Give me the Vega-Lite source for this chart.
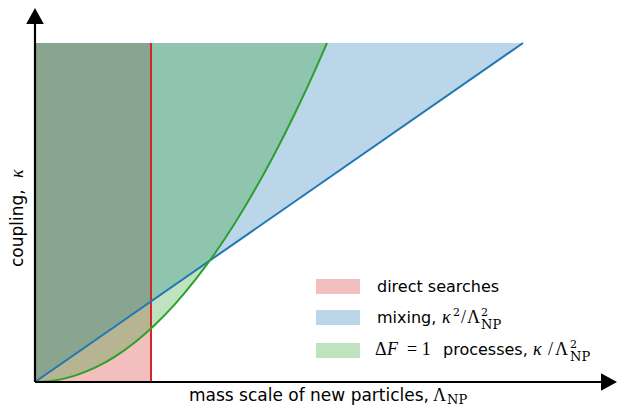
{
  "$schema": "https://vega.github.io/schema/vega-lite/v6.json",
  "width": 580,
  "height": 374,
  "autosize": "none",
  "padding": {"left": 35, "top": 8, "right": 2, "bottom": 25},
  "background": "white",
  "config": {"view": {"stroke": null}},
  "datasets": {
    "search": [
      {"region": "direct searches", "mass": 0, "mass2": 116, "coupling": 0, "coupling2": 339}
    ],
    "mixing": [
      {"region": "mixing", "mass": 0, "coupling": 0},
      {"region": "mixing", "mass": 488, "coupling": 339}
    ],
    "dF1": [
      {"region": "ΔF = 1 processes", "mass": 0, "coupling": 0},
      {"region": "ΔF = 1 processes", "mass": 20, "coupling": 1.6},
      {"region": "ΔF = 1 processes", "mass": 40, "coupling": 6.4},
      {"region": "ΔF = 1 processes", "mass": 60, "coupling": 14.3},
      {"region": "ΔF = 1 processes", "mass": 80, "coupling": 25.4},
      {"region": "ΔF = 1 processes", "mass": 100, "coupling": 39.8},
      {"region": "ΔF = 1 processes", "mass": 120, "coupling": 57.3},
      {"region": "ΔF = 1 processes", "mass": 140, "coupling": 77.9},
      {"region": "ΔF = 1 processes", "mass": 160, "coupling": 101.8},
      {"region": "ΔF = 1 processes", "mass": 180, "coupling": 128.8},
      {"region": "ΔF = 1 processes", "mass": 200, "coupling": 159.0},
      {"region": "ΔF = 1 processes", "mass": 220, "coupling": 192.4},
      {"region": "ΔF = 1 processes", "mass": 240, "coupling": 229.0},
      {"region": "ΔF = 1 processes", "mass": 260, "coupling": 268.8},
      {"region": "ΔF = 1 processes", "mass": 280, "coupling": 311.7},
      {"region": "ΔF = 1 processes", "mass": 292, "coupling": 339}
    ],
    "cut": [
      {"mass": 116, "coupling": 0, "coupling2": 339}
    ],
    "axes": [
      {"mass": 0, "mass2": 575, "coupling": 0, "coupling2": 0},
      {"mass": 0, "mass2": 0, "coupling": 0, "coupling2": 365}
    ],
    "arrowRight": [{"mass": 574, "coupling": 0}],
    "arrowUp": [{"mass": 0, "coupling": 366}],
    "key": [
      {"region": "direct searches", "mass": 281, "mass2": 325, "coupling": 88, "coupling2": 103},
      {"region": "mixing", "mass": 281, "mass2": 325, "coupling": 57, "coupling2": 72},
      {"region": "ΔF = 1 processes", "mass": 281, "mass2": 325, "coupling": 24, "coupling2": 39}
    ],
    "keyText": [
      {"label": "direct searches", "mass": 342, "coupling": 90},
      {"label": "mixing,", "mass": 342, "coupling": 59},
      {"label": "processes,", "mass": 408, "coupling": 27}
    ],
    "xTitle": [{"label": "mass scale of new particles,", "mass": 154, "coupling": -19}],
    "yTitle": [{"label": "coupling,", "mass": -12, "coupling": 115}],
    "yTitleMath": [{"label": "κ", "mass": -12, "coupling": 204}],
    "mathItalic": [
      {"label": "κ", "mass": 407, "coupling": 59},
      {"label": "F", "mass": 352, "coupling": 27},
      {"label": "κ", "mass": 498, "coupling": 27}
    ],
    "mathUpright": [
      {"label": "/", "mass": 426, "coupling": 59},
      {"label": "Λ", "mass": 432, "coupling": 59},
      {"label": "Δ", "mass": 340, "coupling": 27},
      {"label": "= 1", "mass": 372, "coupling": 27},
      {"label": "/", "mass": 513, "coupling": 27},
      {"label": "Λ", "mass": 520, "coupling": 27},
      {"label": "Λ", "mass": 398, "coupling": -19}
    ],
    "sup": [
      {"label": "2", "mass": 418, "coupling": 66},
      {"label": "2", "mass": 446, "coupling": 66},
      {"label": "2", "mass": 535, "coupling": 34}
    ],
    "sub": [
      {"label": "NP", "mass": 446, "coupling": 53},
      {"label": "NP", "mass": 535, "coupling": 21},
      {"label": "NP", "mass": 412, "coupling": -22}
    ]
  },
  "encoding": {
    "x": {"field": "mass", "type": "quantitative", "scale": {"domain": [0, 580], "nice": false, "zero": false}, "axis": null},
    "y": {"field": "coupling", "type": "quantitative", "scale": {"domain": [0, 374], "nice": false, "zero": false}, "axis": null}
  },
  "layer": [
    {
      "data": {"name": "search"},
      "mark": {"type": "rect", "fillOpacity": 0.3},
      "encoding": {
        "x2": {"field": "mass2"},
        "y2": {"field": "coupling2"},
        "color": {"field": "region", "type": "nominal", "legend": null,
          "scale": {"domain": ["direct searches", "mixing", "ΔF = 1 processes"], "range": ["#d62728", "#1f77b4", "#2ca02c"]}}
      }
    },
    {
      "data": {"name": "mixing"},
      "mark": {"type": "area", "fillOpacity": 0.3},
      "encoding": {
        "y2": {"datum": 339},
        "color": {"field": "region", "type": "nominal"}
      }
    },
    {
      "data": {"name": "dF1"},
      "mark": {"type": "area", "fillOpacity": 0.3, "interpolate": "monotone"},
      "encoding": {
        "y2": {"datum": 339},
        "color": {"field": "region", "type": "nominal"}
      }
    },
    {
      "data": {"name": "cut"},
      "mark": {"type": "rule", "color": "#d62728", "strokeWidth": 2},
      "encoding": {"y2": {"field": "coupling2"}}
    },
    {
      "data": {"name": "mixing"},
      "mark": {"type": "line", "color": "#1f77b4", "strokeWidth": 2},
      "encoding": {}
    },
    {
      "data": {"name": "dF1"},
      "mark": {"type": "line", "color": "#2ca02c", "strokeWidth": 2, "interpolate": "monotone"},
      "encoding": {}
    },
    {
      "data": {"name": "axes"},
      "mark": {"type": "rule", "color": "black", "strokeWidth": 2.2},
      "encoding": {"x2": {"field": "mass2"}, "y2": {"field": "coupling2"}}
    },
    {
      "data": {"name": "arrowRight"},
      "mark": {"type": "point", "shape": "M1,0L-1,-1.1L-1,1.1Z", "size": 256, "filled": true, "color": "black", "opacity": 1, "strokeWidth": 0}
    },
    {
      "data": {"name": "arrowUp"},
      "mark": {"type": "point", "shape": "M0,-1L-1.1,1L1.1,1Z", "size": 256, "filled": true, "color": "black", "opacity": 1, "strokeWidth": 0}
    },
    {
      "data": {"name": "key"},
      "mark": {"type": "rect", "fillOpacity": 0.3},
      "encoding": {
        "x2": {"field": "mass2"},
        "y2": {"field": "coupling2"},
        "color": {"field": "region", "type": "nominal"}
      }
    },
    {
      "data": {"name": "keyText"},
      "mark": {"type": "text", "font": "DejaVu Sans", "fontSize": 16, "align": "left", "baseline": "alphabetic", "color": "black"},
      "encoding": {"text": {"field": "label"}}
    },
    {
      "data": {"name": "xTitle"},
      "mark": {"type": "text", "font": "DejaVu Sans", "fontSize": 17, "align": "left", "baseline": "alphabetic", "color": "black"},
      "encoding": {"text": {"field": "label"}}
    },
    {
      "data": {"name": "yTitle"},
      "mark": {"type": "text", "font": "DejaVu Sans", "fontSize": 17, "align": "left", "baseline": "alphabetic", "angle": 270, "color": "black"},
      "encoding": {"text": {"field": "label"}}
    },
    {
      "data": {"name": "yTitleMath"},
      "mark": {"type": "text", "font": "Liberation Serif", "fontStyle": "italic", "fontSize": 18, "align": "left", "baseline": "alphabetic", "angle": 270, "color": "black"},
      "encoding": {"text": {"field": "label"}}
    },
    {
      "data": {"name": "mathItalic"},
      "mark": {"type": "text", "font": "Liberation Serif", "fontStyle": "italic", "fontSize": 18, "align": "left", "baseline": "alphabetic", "color": "black"},
      "encoding": {"text": {"field": "label"}}
    },
    {
      "data": {"name": "mathUpright"},
      "mark": {"type": "text", "font": "Liberation Serif", "fontSize": 18, "align": "left", "baseline": "alphabetic", "color": "black"},
      "encoding": {"text": {"field": "label"}}
    },
    {
      "data": {"name": "sup"},
      "mark": {"type": "text", "font": "DejaVu Serif", "fontSize": 11, "align": "left", "baseline": "alphabetic", "color": "black"},
      "encoding": {"text": {"field": "label"}}
    },
    {
      "data": {"name": "sub"},
      "mark": {"type": "text", "font": "DejaVu Serif", "fontSize": 13, "align": "left", "baseline": "alphabetic", "color": "black"},
      "encoding": {"text": {"field": "label"}}
    }
  ]
}
